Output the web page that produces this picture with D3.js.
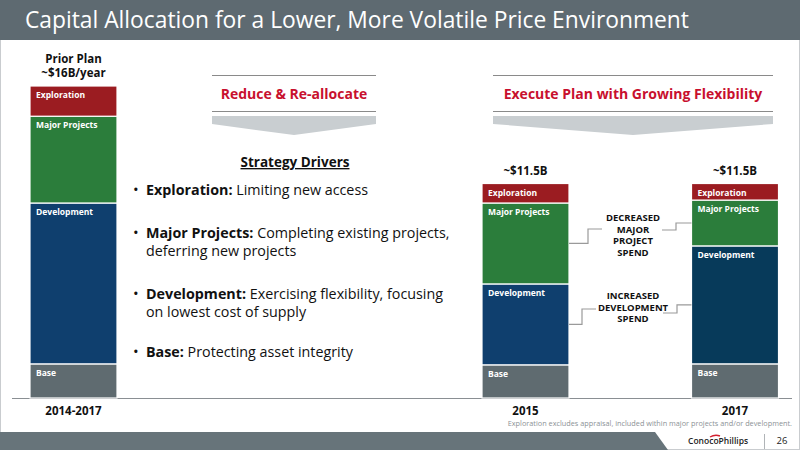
<!DOCTYPE html>
<html lang="en">
<head>
<meta charset="UTF-8">
<title>Capital Allocation</title>
<style>
  html, body { margin: 0; padding: 0; background: #fff; }
  svg { display: block; font-family: "Open Sans", Lato, sans-serif; }
</style>
</head>
<body>
<div id="chart"></div>
<script src="https://cdn.jsdelivr.net/npm/d3@7"></script>
<script>
// chart data ($B per year)
const categories = ["2014-2017", "2015", "2017"];
const segmentNames = ["Base", "Development", "Major Projects", "Exploration"];
const base = [1.75, 1.7, 1.75];
const development = [8.25, 4.15, 6.05];
const majorProjects = [4.45, 4.15, 2.35];
const exploration = [1.55, 1.0, 0.85];
const totalLabels = [["Prior Plan", "~$16B/year"], ["~$11.5B"], ["~$11.5B"]];

const bullets = [
  ["Exploration:", " Limiting new access", null],
  ["Major Projects:", " Completing existing projects,", "deferring new projects"],
  ["Development:", " Exercising flexibility, focusing", "on lowest cost of supply"],
  ["Base:", " Protecting asset integrity", null]
];

const W = 800, H = 450;
const svg = d3.select("#chart").append("svg")
    .attr("width", W)
    .attr("height", H);

// slide frame + title bar
svg.append("rect").attr("x", 0.5).attr("y", 0.5).attr("width", W - 1).attr("height", H - 1)
    .attr("fill", "#fff").attr("stroke", "#c9cccf");
svg.append("rect").attr("x", 0).attr("y", 0).attr("width", W).attr("height", 40).attr("fill", "#5e6a71");
svg.append("text").attr("x", 25).attr("y", 28)
    .attr("fill", "#fff").attr("font-size", 22.8)
    .text("Capital Allocation for a Lower, More Volatile Price Environment");

// scales
const y = d3.scaleLinear().domain([0, 16]).range([398, 86]);
const xLeft = d3.scaleBand().domain([categories[0]]).range([30, 117]);
const xRight = d3.scaleBand().domain(categories.slice(1)).range([482, 779.5])
    .paddingInner(0.58).paddingOuter(0);
const xOf = c => c === categories[0] ? xLeft(c) : xRight(c);
const bw = xLeft.bandwidth();

const rows = categories.map((c, i) => ({
  cat: c,
  "Base": base[i],
  "Development": development[i],
  "Major Projects": majorProjects[i],
  "Exploration": exploration[i]
}));
const stack = d3.stack().keys(segmentNames)(rows);

const colors = {
  "Base": ["#5f6b70", "#5f6b70", "#5f6b70"],
  "Development": ["#0f3f6e", "#0f3f6e", "#073a5a"],
  "Major Projects": ["#2b7d3b", "#2b7d3b", "#2b7d3b"],
  "Exploration": ["#9b1c21", "#9b1c21", "#9b1c21"]
};

// baseline
svg.append("line").attr("x1", 12).attr("x2", 792)
    .attr("y1", y(0) + 0.5).attr("y2", y(0) + 0.5)
    .attr("stroke", "#8a8f93").attr("stroke-width", 1.2);

const layer = svg.selectAll("g.layer").data(stack).enter().append("g").attr("class", "layer");
layer.selectAll("rect").data(d => d.map((p, i) => ({p, i, key: d.key}))).enter().append("rect")
    .attr("x", d => xOf(categories[d.i]))
    .attr("y", d => y(d.p[1]))
    .attr("width", bw)
    .attr("height", d => y(d.p[0]) - y(d.p[1]))
    .attr("fill", d => colors[d.key][d.i])
    .attr("stroke", "#fff").attr("stroke-width", 1.2);
layer.selectAll("text").data(d => d.map((p, i) => ({p, i, key: d.key}))).enter().append("text")
    .attr("x", d => xOf(categories[d.i]) + 6)
    .attr("y", d => y(d.p[1]) + 12)
    .attr("fill", "#fff").attr("font-size", 8.5).attr("font-weight", 700)
    .text(d => d.key);

// totals above bars and category labels
categories.forEach((c, i) => {
  const top = y(d3.sum(segmentNames, k => rows[i][k]));
  const lines = totalLabels[i];
  lines.forEach((t, j) => {
    svg.append("text").attr("x", xOf(c) + bw / 2)
        .attr("y", top - 9 - (lines.length - 1 - j) * 14)
        .attr("text-anchor", "middle").attr("font-size", 11.5).attr("font-weight", 700)
        .attr("fill", "#111").text(t);
  });
  svg.append("text").attr("x", xOf(c) + bw / 2).attr("y", y(0) + 17)
      .attr("text-anchor", "middle").attr("font-size", 11.5).attr("font-weight", 700)
      .attr("fill", "#111").text(c);
});

// section headers with chevrons
function header(x0, x1, label) {
  const cx = (x0 + x1) / 2;
  svg.append("line").attr("x1", x0).attr("x2", x1).attr("y1", 75.5).attr("y2", 75.5)
      .attr("stroke", "#8a8a8a").attr("stroke-width", 1.2);
  svg.append("line").attr("x1", x0).attr("x2", x1).attr("y1", 111.5).attr("y2", 111.5)
      .attr("stroke", "#8a8a8a").attr("stroke-width", 1.2);
  svg.append("text").attr("x", cx).attr("y", 99).attr("text-anchor", "middle")
      .attr("fill", "#c8102e").attr("font-size", 14).attr("font-weight", 700).text(label);
  svg.append("path")
      .attr("d", `M${x0},116 L${x1},116 L${x1},124 L${cx},135 L${x0},124 Z`)
      .attr("fill", "#c9ced1");
}
header(212, 376, "Reduce & Re-allocate");
header(493, 773, "Execute Plan with Growing Flexibility");

// strategy drivers
svg.append("text").attr("x", 295).attr("y", 167).attr("text-anchor", "middle")
    .attr("font-size", 13.5).attr("font-weight", 700).attr("fill", "#111")
    .attr("text-decoration", "underline").text("Strategy Drivers");
const bulletY = [195, 238, 299, 357];
bullets.forEach((b, i) => {
  svg.append("text").attr("x", 133).attr("y", bulletY[i]).attr("font-size", 15).attr("fill", "#111").text("•");
  const t = svg.append("text").attr("x", 146).attr("y", bulletY[i]).attr("font-size", 14.3).attr("fill", "#111");
  t.append("tspan").attr("font-weight", 700).text(b[0]);
  t.append("tspan").text(b[1]);
  if (b[2]) {
    svg.append("text").attr("x", 146).attr("y", bulletY[i] + 18).attr("font-size", 14.3)
        .attr("fill", "#111").text(b[2]);
  }
});

// connectors between 2015 and 2017 segments
function mid(key, i) {
  const s = stack.find(d => d.key === key)[i];
  return (y(s[0]) + y(s[1])) / 2;
}
const xa = xRight("2015") + bw, xb = xRight("2017");
function connector(key, lx, ly, rx, ry, lines, textY) {
  const y1 = mid(key, 1), y2 = mid(key, 2);
  svg.append("path").attr("d", `M${xa},${y1} H${lx} V${ly} H${lx + 14}`)
      .attr("fill", "none").attr("stroke", "#9a9a9a").attr("stroke-width", 1.2);
  svg.append("path").attr("d", `M${rx - 14},${ry} H${rx} V${y2} H${xb}`)
      .attr("fill", "none").attr("stroke", "#9a9a9a").attr("stroke-width", 1.2);
  lines.forEach((t, j) => {
    svg.append("text").attr("x", 633).attr("y", textY + j * 11.5).attr("text-anchor", "middle")
        .attr("font-size", 9.5).attr("font-weight", 700).attr("fill", "#111").text(t);
  });
}
connector("Major Projects", 588, 229, 676, 230, ["DECREASED", "MAJOR", "PROJECT", "SPEND"], 221);
connector("Development", 582, 309, 677, 313, ["INCREASED", "DEVELOPMENT", "SPEND"], 299);

// footnote and footer
svg.append("text").attr("x", 792).attr("y", 426).attr("text-anchor", "end")
    .attr("font-size", 7.3).attr("fill", "#8c9296")
    .text("Exploration excludes appraisal, included within major projects and/or development.");
svg.append("path").attr("d", "M0,432 H655 L668,450 H0 Z").attr("fill", "#67747a");
svg.append("text").attr("x", 688).attr("y", 444).attr("font-size", 8.5).attr("fill", "#222")
    .attr("font-weight", 600).text("ConocoPhillips");
svg.append("path").attr("d", "M710,437 Q715,434 720,436").attr("fill", "none")
    .attr("stroke", "#d2202f").attr("stroke-width", 1.4);
svg.append("line").attr("x1", 764.5).attr("x2", 764.5).attr("y1", 434).attr("y2", 449)
    .attr("stroke", "#b0b4b7");
svg.append("text").attr("x", 782).attr("y", 444).attr("text-anchor", "middle")
    .attr("font-size", 9.5).attr("fill", "#222").text("26");
</script>
</body>
</html>
